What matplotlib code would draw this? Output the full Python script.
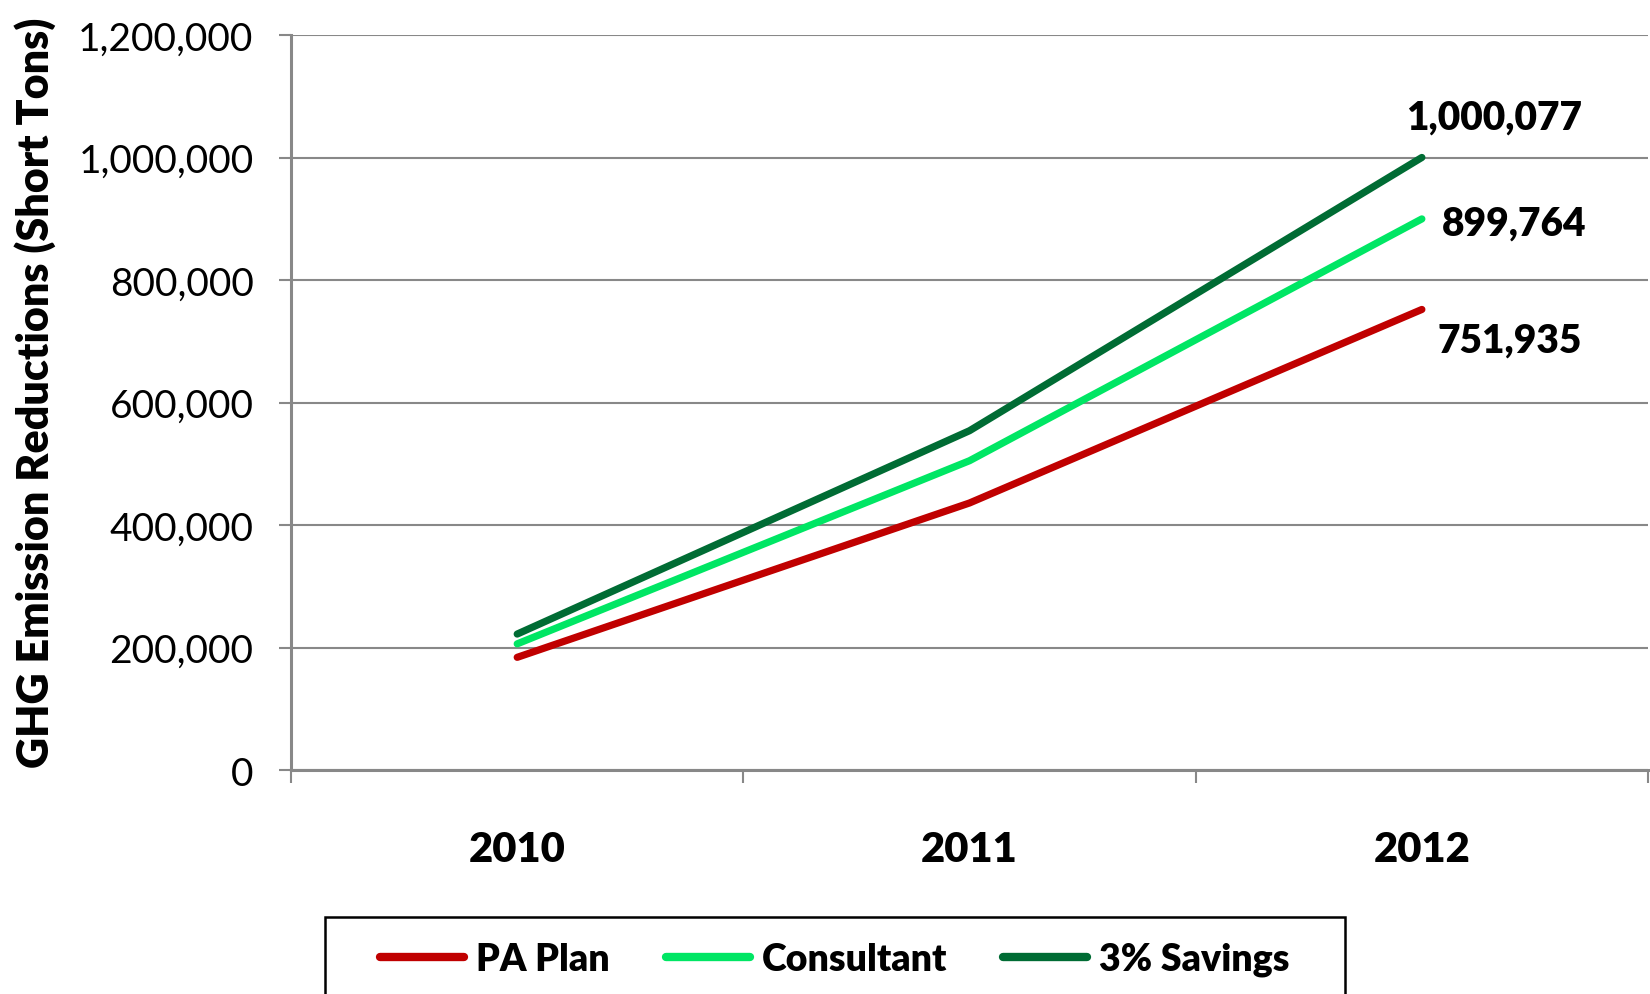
import numpy as np
import matplotlib
matplotlib.use('Agg')
import matplotlib.pyplot as plt
from matplotlib.patches import Rectangle

# Data
years = ['2010', '2011', '2012']
pa_plan = [184000, 436000, 751935]
consultant = [206000, 505000, 899764]
savings_3pct = [222000, 554000, 1000077]
series_names = ['PA Plan', 'Consultant', '3% Savings']
y_ticks = [0, 200000, 400000, 600000, 800000, 1000000, 1200000]

colors = ['#C00000', '#00E664', '#006C34']
gray = '#888888'
font = ['Lato', 'DejaVu Sans']

fig = plt.figure(figsize=(16.5, 9.95), dpi=100)
ax = fig.add_axes([0.1764, 0.2251, 0.8224, 0.7387])

x = np.arange(len(years))
for vals, name, c in zip([pa_plan, consultant, savings_3pct], series_names, colors):
    ax.plot(x, vals, color=c, lw=5.2, solid_capstyle='round', label=name, zorder=3)

# end-of-line value labels
label_offsets = [(88, -31), (92, -4), (72, 40)]
for vals, (dx, dy) in zip([pa_plan, consultant, savings_3pct], label_offsets):
    ax.annotate(f'{vals[-1]:,}', (x[-1], vals[-1]), xytext=(dx, dy),
                textcoords='offset pixels', ha='center', va='center',
                fontsize=28, fontweight='heavy', family=font)

ax.set_xlim(-0.5, 2.5)
ax.set_ylim(0, 1200000)
ax.set_yticks(y_ticks)
ax.set_yticklabels([f'{v:,}' for v in y_ticks], family=font, fontsize=28)
ax.set_xticks(x)
ax.set_xticklabels(years, family=font, fontsize=30, fontweight='heavy')
ax.set_xticks([-0.5, 0.5, 1.5, 2.5], minor=True)
ax.tick_params(axis='x', which='major', length=0, pad=43)
ax.tick_params(axis='x', which='minor', length=9, width=1.5, color=gray, direction='out')
ax.tick_params(axis='y', length=9, width=1.5, color=gray, pad=18)

ax.grid(axis='y', color=gray, lw=1.5, zorder=0)
ax.set_axisbelow(True)
for s in ['top', 'right']:
    ax.spines[s].set_visible(False)
for s in ['left', 'bottom']:
    ax.spines[s].set_color(gray)
    ax.spines[s].set_linewidth(2.2)

fig.text(0.021, 0.605, 'GHG Emission Reductions (Short Tons)', rotation=90,
         ha='center', va='center', fontsize=31, fontweight='heavy', family=font)

# legend box runs off the bottom of the figure
fig.patches.append(Rectangle((0.197, -0.1), 0.618, 0.1774, transform=fig.transFigure,
                             fill=False, edgecolor='black', lw=1.8))
leg = fig.legend(loc='center', bbox_to_anchor=(0.506, 0.0352), ncol=3, frameon=False,
                 prop={'family': font, 'weight': 'heavy', 'size': 27},
                 handlelength=2.24, handletextpad=0.31, columnspacing=1.5)
for h in leg.legend_handles:
    h.set_linewidth(6)

plt.savefig('out.png', dpi=100)
